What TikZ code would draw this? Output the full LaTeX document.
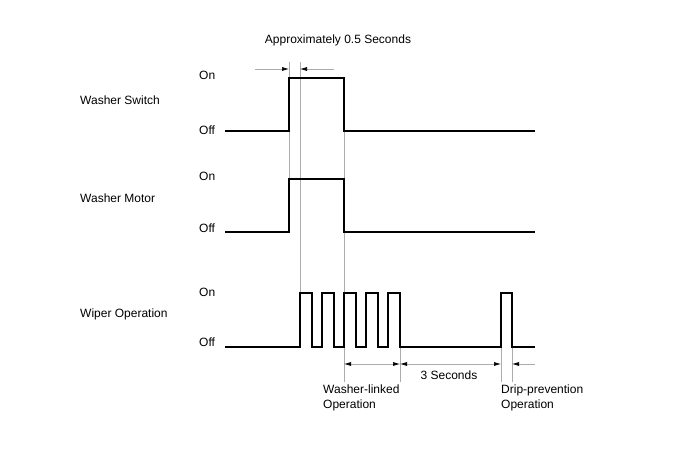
\documentclass[tikz,border=0pt]{standalone}
\usepackage{fontspec}
\setmainfont{Liberation Sans}
\usetikzlibrary{arrows.meta}

\tikzset{
  sig/.style={line width=1.3pt},
  guide/.style={gray!65, line width=0.7pt},
  tip/.style={-{Latex[length=7pt,width=4pt,black]}},
  both/.style={{Latex[length=7pt,width=4pt,black]}-{Latex[length=7pt,width=4pt,black]}},
  lbl/.style={anchor=west, inner sep=0pt, font=\fontsize{12}{15}\selectfont},
}

\begin{document}
\begin{tikzpicture}[x=1pt,y=-1pt]
        \useasboundingbox (0,0) rectangle (688,463);
        % guide lines
        \draw[guide] (289,62) -- (289,232);
        \draw[guide] (300,62) -- (300,293);
        \draw[guide] (344,78) -- (344,382);
        \draw[guide] (400,347) -- (400,382);
        \draw[guide] (501,293) -- (501,382);
        \draw[guide] (512,293) -- (512,382);
        % signals
        \draw[sig] (225,131) -- (289,131) -- (289,78) -- (344,78) -- (344,131) -- (535,131); % switch
        \draw[sig] (225,232) -- (289,232) -- (289,179) -- (344,179) -- (344,232) -- (535,232); % motor
        \draw[sig] (225,347) foreach \x in {300,322,344,366,388} { -- (\x,347) -- (\x,293) -- (\x+12,293) -- (\x+12,347) }
              -- (501,347) -- (501,293) -- (512,293) -- (512,347) -- (535,347); % wiper
        % time marks
        \draw[guide,tip] (255,69) -- (289,69);
        \draw[guide,tip] (334,69) -- (300,69);
        \draw[guide,both] (344,364) -- (400,364);
        \draw[guide,both] (400,364) -- (501,364);
        \draw[guide,tip] (535,364) -- (512,364);
        % texts
        \node[lbl,anchor=center] (title) at (338,40) {Approximately 0.5 Seconds};
        \node[lbl] (sw) at (80,100) {Washer Switch};
        \node[lbl] (mot) at (80,198) {Washer Motor};
        \node[lbl] (wip) at (80,314) {Wiper Operation};
        \node[lbl] (on1) at (199,75) {On}; \node[lbl] (off1) at (199,130) {Off};
        \node[lbl] (on2) at (199,176) {On}; \node[lbl] (off2) at (199,228) {Off};
        \node[lbl] (on3) at (199,292) {On}; \node[lbl] (off3) at (199,342) {Off};
        \node[lbl,anchor=center] (sec) at (449,375) {3 Seconds};
        \node[lbl,anchor=north west,align=left] (wl) at (323,385) {Washer-linked\\Operation};
        \node[lbl,anchor=north west,align=left] (dp) at (501,385) {Drip-prevention\\Operation};
    \end{tikzpicture}
\end{document}
